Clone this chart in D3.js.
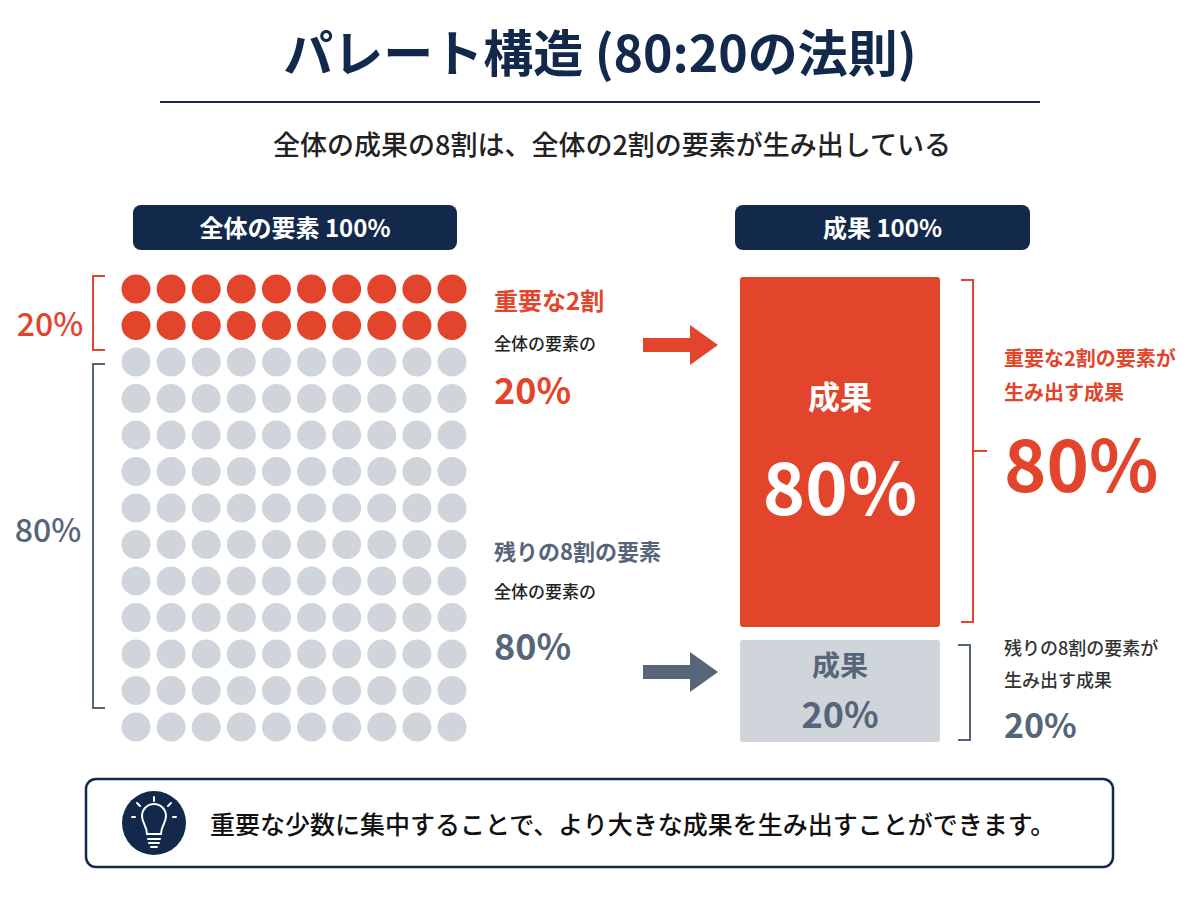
<!DOCTYPE html>
<html><head><meta charset="utf-8">
<script src="https://cdn.jsdelivr.net/npm/d3@7"></script>
<style>body{margin:0;background:#fff}text{font-family:"Noto Sans CJK JP","Noto Sans",sans-serif}</style>
</head><body><svg id="c" width="1200" height="900"></svg>
<script>
const rowKinds = ["key","key","rest","rest","rest","rest","rest","rest","rest","rest","rest","rest","rest"];
const cols = d3.range(10);
const outcomeParts = [
  { id: "key", value: 80, label: "成果", pct: "80%" },
  { id: "rest", value: 20, label: "成果", pct: "20%" },
];
const navy = "#13294b", red = "#e2452b", gray = "#d0d5dc", slate = "#56657a";

const svg = d3.select("#c");

// title
svg.append("text").attr("x", 600).attr("y", 72).attr("text-anchor", "middle")
  .attr("font-size", 50).attr("font-weight", 700).attr("fill", navy).text("パレート構造 (80:20の法則)");
svg.append("line").attr("x1", 160).attr("x2", 1040).attr("y1", 102).attr("y2", 102)
  .attr("stroke", navy).attr("stroke-width", 2);
svg.append("text").attr("x", 612).attr("y", 155).attr("text-anchor", "middle")
  .attr("font-size", 27).attr("font-weight", 500).attr("fill", "#222").text("全体の成果の8割は、全体の2割の要素が生み出している");

// pills
function pill(x, w, t) {
  svg.append("rect").attr("x", x).attr("y", 205).attr("width", w).attr("height", 45).attr("rx", 8).attr("fill", navy);
  svg.append("text").attr("x", x + w / 2).attr("y", 237).attr("text-anchor", "middle")
    .attr("font-size", 24).attr("font-weight", 700).attr("fill", "#fff").text(t);
}
pill(133, 324, "全体の要素 100%");
pill(735, 295, "成果 100%");

// dot grid
const x = d3.scalePoint().domain(cols).range([136, 452]);
const y = d3.scalePoint().domain(d3.range(rowKinds.length)).range([289, 727]);
const cells = [];
rowKinds.forEach((k, r) => cols.forEach(c => cells.push({ r, c, k })));
svg.selectAll(".dot").data(cells).enter().append("circle").attr("class", "dot")
  .attr("cx", d => x(d.c)).attr("cy", d => y(d.r)).attr("r", 14.5)
  .attr("fill", d => d.k === "key" ? red : gray);

// brackets
function bracket(x0, y0, y1, color, dir, mid) {
  const x1 = x0 + dir * 12;
  let p = `M${x1},${y0}H${x0}V${y1}H${x1}`;
  if (mid) p += `M${x0},${(y0 + y1) / 2}H${x0 - dir * 14}`;
  svg.append("path").attr("d", p).attr("fill", "none").attr("stroke", color).attr("stroke-width", 2);
}
bracket(93, 276, 350, red, 1);
bracket(93, 364, 708, slate, 1);
svg.append("text").attr("x", 50).attr("y", 336).attr("text-anchor", "middle").attr("font-size", 32).attr("font-weight", 500).attr("fill", red).text("20%");
svg.append("text").attr("x", 48).attr("y", 542).attr("text-anchor", "middle").attr("font-size", 32).attr("font-weight", 500).attr("fill", slate).text("80%");

// middle labels
function t(x0, y0, s, size, color, w) {
  svg.append("text").attr("x", x0).attr("y", y0).attr("font-size", size).attr("font-weight", w || 700).attr("fill", color).text(s);
}
t(494, 310, "重要な2割", 24, red);
t(494, 350, "全体の要素の", 17, "#222", 500);
t(494, 404, "20%", 36, red);
t(494, 560, "残りの8割の要素", 22, slate);
t(494, 598, "全体の要素の", 17, "#222", 500);
t(494, 660, "80%", 36, slate);

// arrows
function arrow(y0, color) {
  svg.append("path").attr("d", `M643,${y0 - 7}H690V${y0 - 20}L718,${y0}L690,${y0 + 20}V${y0 + 7}H643Z`).attr("fill", color);
}
arrow(345, red);
arrow(672, slate);

// outcome stack
const ys = d3.scaleLinear().domain([20, 80]).range([102, 350]);
let acc = 277;
const gap = 13;
outcomeParts.forEach(d => { d.y = acc; d.h = ys(d.value); acc += d.h + gap; });
const g = svg.selectAll(".bar").data(outcomeParts).enter().append("g");
g.append("rect").attr("x", 740).attr("width", 200).attr("y", d => d.y).attr("height", d => d.h)
  .attr("rx", 3).attr("fill", d => d.id === "key" ? red : gray);
g.append("text").attr("x", 840).attr("y", d => d.id === "key" ? d.y + 132 : d.y + 36)
  .attr("text-anchor", "middle").attr("font-size", d => d.id === "key" ? 32 : 28).attr("font-weight", 700)
  .attr("fill", d => d.id === "key" ? "#fff" : slate).text(d => d.label);
g.append("text").attr("x", 840).attr("y", d => d.id === "key" ? d.y + 238 : d.y + 88)
  .attr("text-anchor", "middle").attr("font-size", d => d.id === "key" ? 72 : 36).attr("font-weight", 700)
  .attr("fill", d => d.id === "key" ? "#fff" : slate).text(d => d.pct);

bracket(973, 280, 622, red, -1, true);
bracket(970, 645, 740, slate, -1);
t(1004, 366, "重要な2割の要素が", 20, red);
t(1004, 400, "生み出す成果", 20, red);
svg.append("text").attr("x", 1004).attr("y", 492).attr("font-size", 72).attr("font-weight", 700).attr("fill", red).text("80%");
t(1004, 655, "残りの8割の要素が", 18, "#333", 500);
t(1004, 687, "生み出す成果", 18, "#333", 500);
t(1004, 738, "20%", 34, slate);

// bottom note
svg.append("rect").attr("x", 86).attr("y", 779).attr("width", 1027).attr("height", 88).attr("rx", 10)
  .attr("fill", "#fff").attr("stroke", navy).attr("stroke-width", 2.5);
svg.append("circle").attr("cx", 154).attr("cy", 823).attr("r", 32).attr("fill", navy);
const bulb = svg.append("g").attr("stroke", "#fff").attr("fill", "none").attr("stroke-width", 2).attr("stroke-linecap", "round");
bulb.append("path").attr("d", "M147,834 C147,826 142,823 142,816 A12,12 0 1 1 166,816 C166,823 161,826 161,834 Z");
bulb.append("path").attr("d", "M148,839H160M149,843H159M151,847H157");
bulb.append("path").attr("d", "M154,797V801M137,803L140,806M171,803L168,806M132,817H135M176,817H173");
svg.append("text").attr("x", 210).attr("y", 834).attr("font-size", 25).attr("font-weight", 500).attr("fill", "#111")
  .text("重要な少数に集中することで、より大きな成果を生み出すことができます。");
</script></body></html>
